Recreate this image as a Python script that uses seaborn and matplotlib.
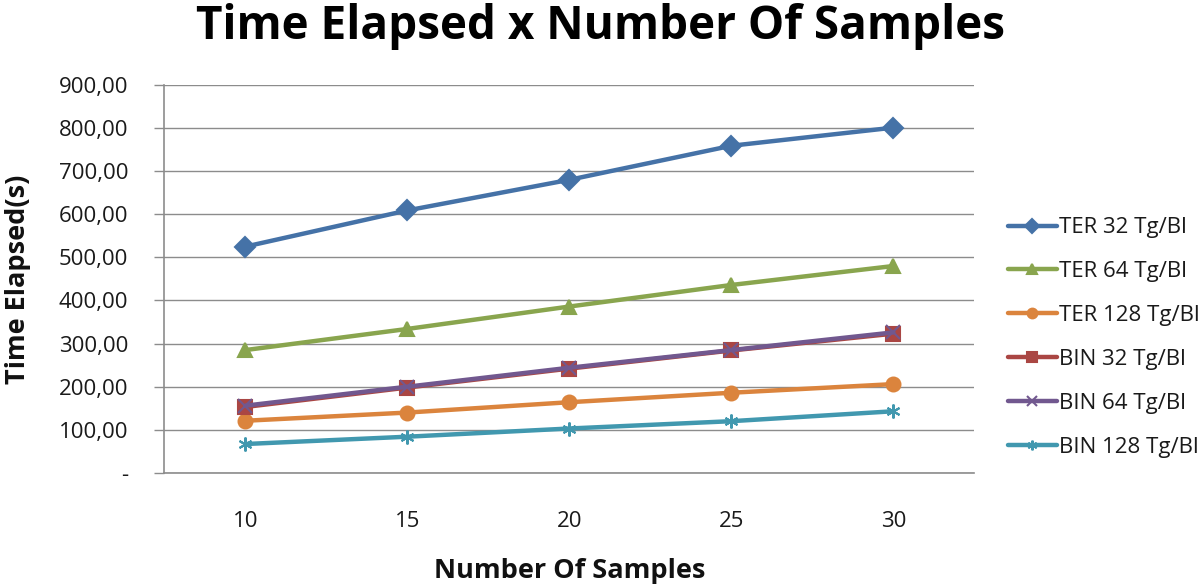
import seaborn as sns
import matplotlib.pyplot as plt
from matplotlib.ticker import FuncFormatter
import pandas as pd

# data
samples = [10, 15, 20, 25, 30]
series_names = ["TER 32 Tg/Bl", "TER 64 Tg/Bl", "TER 128 Tg/Bl",
                "BIN 32 Tg/Bl", "BIN 64 Tg/Bl", "BIN 128 Tg/Bl"]
ter_32 = [525, 609, 680, 759, 801]
ter_64 = [285, 334, 386, 436, 480]
ter_128 = [121, 140, 164, 186, 206]
bin_32 = [153, 198, 242, 284, 323]
bin_64 = [156, 200, 244, 285, 326]
bin_128 = [67, 84, 103, 120, 143]

colors = ["#4572A7", "#89A54E", "#DB843D", "#AA4643", "#71588F", "#4198AF"]
markers = ["D", "^", "o", "s", "x", (6, 2, 0)]

values = [ter_32, ter_64, ter_128, bin_32, bin_64, bin_128]

sns.set_style("white")
plt.rcParams['font.family'] = ['Open Sans', 'DejaVu Sans']

fig = plt.figure(figsize=(12, 5.86), dpi=100)
ax = fig.add_axes([0.137, 0.193, 0.675, 0.662])

# one lineplot per series so filled and line markers can be mixed
for name, vals, c, m in zip(series_names, values, colors, markers):
    df = pd.DataFrame({"samples": samples, "time": vals})
    sns.lineplot(data=df, x="samples", y="time", color=c, marker=m,
                 markersize=10, markeredgewidth=1.5, markeredgecolor=c,
                 linewidth=3.2, label=name, ax=ax)

ax.set_xlim(7.5, 32.5)
ax.set_ylim(0, 900)
ax.set_xticks(samples)
ax.set_yticks(range(0, 901, 100))
ax.yaxis.set_major_formatter(FuncFormatter(lambda v, p: "-" if v == 0 else f"{v:.2f}".replace(".", ",")))

ax.grid(axis="y", color="#8c8c8c", linewidth=1)
ax.set_axisbelow(True)
for side in ["top", "right"]:
    ax.spines[side].set_visible(False)
for side in ["left", "bottom"]:
    ax.spines[side].set_color("#8c8c8c")
    ax.spines[side].set_linewidth(1.2)
ax.tick_params(axis="y", which="major", left=True, length=7, color="#8c8c8c",
               width=1, labelsize=16, pad=19, labelcolor="#1a1a1a")
ax.tick_params(axis="x", bottom=False, labelsize=16, pad=24, labelcolor="#1a1a1a")

ax.set_xlabel("Number Of Samples", fontsize=19.5, fontweight="bold", color="#111111")
ax.xaxis.set_label_coords(0.5, -0.253)
ax.xaxis.label.set_va("center")
ax.set_ylabel("Time Elapsed(s)", fontsize=19.5, fontweight="bold", color="#111111")
ax.yaxis.set_label_coords(-0.181, 0.5)
ax.yaxis.label.set_va("center")
fig.suptitle("Time Elapsed x Number Of Samples", fontsize=33, fontweight="bold",
             color="black", y=0.955, va="center")

handles, labels = ax.get_legend_handles_labels()
ax.legend(handles, labels, loc="center left", bbox_to_anchor=(0.84, 0.424),
          bbox_transform=fig.transFigure, frameon=False, fontsize=16,
          labelspacing=1.03, handlelength=2.2, handletextpad=0.1,
          borderaxespad=0, borderpad=0, markerscale=0.7, labelcolor="#1a1a1a")

fig.savefig("out.png", dpi=100)
